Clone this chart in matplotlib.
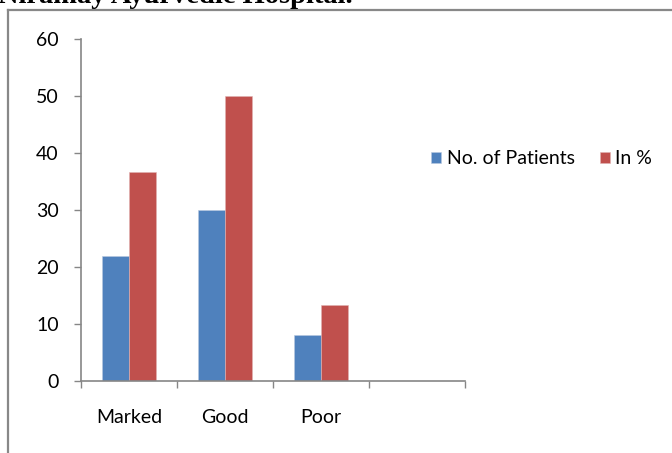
import matplotlib
matplotlib.use('Agg')
import matplotlib.pyplot as plt
from matplotlib.lines import Line2D
import numpy as np

# chart data
categories = ['Marked', 'Good', 'Poor', '']
patients = [22, 30, 8]
percent = [36.67, 50, 13.33]
series_names = ['No. of Patients', 'In %']
colors = ['#4F81BD', '#C0504D']
yticks = [0, 10, 20, 30, 40, 50, 60]

W, H = 672, 453
fig = plt.figure(figsize=(W / 100, H / 100), dpi=100)
plt.rcParams['font.family'] = ['Lato', 'DejaVu Sans']

# axes box in pixels
left, right, top, bottom = 81, 465, 39, 381
ax = fig.add_axes([left / W, 1 - bottom / H, (right - left) / W, (bottom - top) / H])

x = np.arange(len(patients))
bw = 0.286
ax.bar(x - bw / 2, patients, bw, color=colors[0], edgecolor='#b8c9e0', linewidth=0.4, label=series_names[0])
ax.bar(x + bw / 2, percent, bw, color=colors[1], edgecolor='#e0b3b2', linewidth=0.4, label=series_names[1])

ax.set_xlim(-0.5, len(categories) - 0.5)
ax.set_ylim(0, 60)
ax.set_yticks(yticks)
ax.tick_params(axis='y', length=5, width=1, color='#868686', labelsize=14, pad=11)

# boundary ticks as major, names as minor labels
ax.set_xticks(np.arange(len(categories) + 1) - 0.5)
ax.set_xticklabels([])
ax.set_xticks(np.arange(len(categories)), minor=True)
ax.set_xticklabels(categories, minor=True)
ax.tick_params(axis='x', which='major', length=5, width=1, color='#868686')
ax.tick_params(axis='x', which='minor', length=0, labelsize=14, pad=20)

for s in ['top', 'right']:
    ax.spines[s].set_visible(False)
for s in ['left', 'bottom']:
    ax.spines[s].set_color('#868686')
    ax.spines[s].set_linewidth(1.2)

ax.legend(loc='center left', bbox_to_anchor=(431 / W, 1 - 159 / H), bbox_transform=fig.transFigure,
          ncol=2, frameon=False, fontsize=14, handlelength=0.5, handleheight=0.5,
          handletextpad=0.3, columnspacing=1.3, borderaxespad=0, borderpad=0)

# page frame and cut-off heading
fig.add_artist(Line2D([8 / W, 8 / W], [0, 1 - 10 / H], color='#888888', lw=1.6, transform=fig.transFigure))
fig.add_artist(Line2D([8 / W, 1], [1 - 10 / H, 1 - 10 / H], color='#888888', lw=1.6, transform=fig.transFigure))
fig.text(-2 / W, 1 - 3 / H, 'Niramay Ayurvedic Hospital.', fontsize=20.5, fontweight='bold',
         family='Liberation Serif', va='baseline', ha='left')

fig.savefig('out.png', dpi=100)
